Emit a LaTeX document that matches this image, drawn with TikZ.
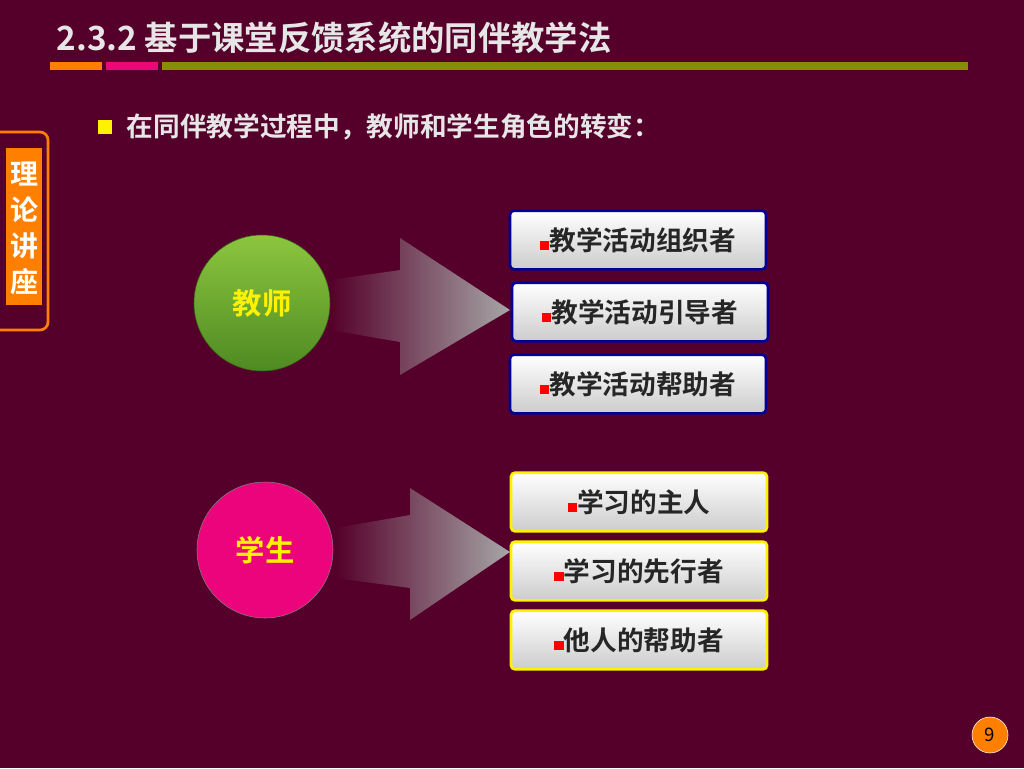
\documentclass[tikz,border=0pt]{standalone}
\usepackage{fontspec}
\setmainfont{Noto Sans CJK SC}[BoldFont={Noto Sans CJK SC Bold}]
\definecolor{bg}{HTML}{55002A}
\definecolor{tx}{HTML}{E6E6E6}
\definecolor{gin}{HTML}{8CC63F}
\definecolor{gout}{HTML}{4E8A22}
\newcommand{\rbul}{\textcolor{red}{\rule{7pt}{7pt}}}
\tikzset{
 rolebox/.style={draw=#1,line width=2pt,rounded corners=3pt,minimum width=192pt,minimum height=44pt,top color=white,bottom color=gray!40,font=\bfseries\fontsize{20}{22}\selectfont,text=black!85},
}
\begin{document}
\begin{tikzpicture}[x=0.75pt,y=-0.75pt]
\fill[bg] (0,0) rectangle (1024,768);
\useasboundingbox (0,0) rectangle (1024,768);
\node[anchor=west,text=tx,font=\bfseries\fontsize{25}{27}\selectfont] (title) at (52,38) {2.3.2 基于课堂反馈系统的同伴教学法};
\fill[orange] (50,62) rectangle (102,70);
\fill[magenta!80!red] (106,62) rectangle (158,70);
\fill[olive!90!green] (162,62) rectangle (968,70);
\fill[yellow] (98,120) rectangle (112,134);
\node[anchor=west,text=tx,font=\bfseries\fontsize{20}{22}\selectfont] (sub) at (122,127) {在同伴教学过程中，教师和学生角色的转变：};
\draw[orange,line width=2pt,rounded corners=6pt] (-10,132) rectangle (48,330);
\fill[orange] (6,148) rectangle (42,305);
\node[text=white,font=\bfseries\fontsize{21}{27}\selectfont,align=center,inner sep=0pt] (tab) at (24,228) {理\\论\\讲\\座};
\shade[left color=bg,right color=gray!70] (330,280) -- (400,270) -- (400,238) -- (510,310) -- (400,375) -- (400,342) -- (330,330) -- cycle;
\shade[left color=bg,right color=gray!70] (335,528) -- (410,515) -- (410,488) -- (510,552) -- (410,620) -- (410,588) -- (335,578) -- cycle;
\node[circle,minimum size=102pt,inner sep=0pt,draw=gout!70!black,top color=gin,bottom color=gout,text=yellow,font=\bfseries\fontsize{22}{24}\selectfont] (t) at (262,303) {教师};
\node[circle,minimum size=102pt,inner sep=0pt,draw=gray,fill=magenta!85!red,text=yellow,font=\bfseries\fontsize{22}{24}\selectfont] (s) at (265,550) {学生};
\node[rolebox=blue!60!black] (t1) at (638,240) {\rbul 教学活动组织者};
\node[rolebox=blue!60!black] (t2) at (640,312) {\rbul 教学活动引导者};
\node[rolebox=blue!60!black] (t3) at (638,384) {\rbul 教学活动帮助者};
\node[rolebox=yellow] (s1) at (639,502) {\rbul 学习的主人};
\node[rolebox=yellow] (s2) at (639,571) {\rbul 学习的先行者};
\node[rolebox=yellow] (s3) at (639,640) {\rbul 他人的帮助者};
\node[circle,fill=orange,draw=white,minimum size=27pt,inner sep=0pt,font=\fontsize{14}{14}\selectfont,text=black] (pg) at (990,735) {9};
\end{tikzpicture}
\end{document}
